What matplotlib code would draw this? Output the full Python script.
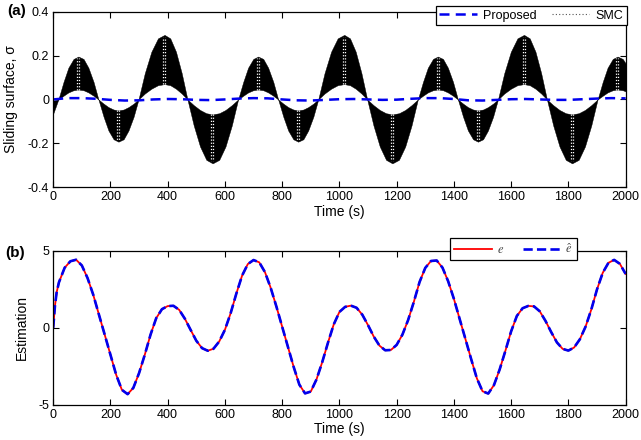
import numpy as np
import matplotlib
matplotlib.use("Agg")
import matplotlib.pyplot as plt
from matplotlib.lines import Line2D

plt.rcParams['font.family'] = ['Liberation Sans', 'DejaVu Sans']
plt.rcParams['mathtext.fontset'] = 'stix'

# ---- (a) sliding surface: SMC band (outer / inner envelope) and proposed ----
sigma_t = [0, 18, 36, 53, 71, 88, 106, 123, 141, 158, 176, 193, 211, 228, 246, 263, 281, 298,
           320, 343, 366, 389, 409, 429, 449, 469, 491, 513, 535, 557, 580, 602, 624, 646,
           664, 681, 699, 716, 734, 751, 769, 786, 804, 821, 839, 856, 874, 891, 909, 926,
           948, 971, 994, 1017, 1037, 1057, 1077, 1097, 1119, 1141, 1163, 1185, 1208, 1230, 1252, 1274,
           1292, 1309, 1327, 1344, 1362, 1379, 1397, 1414, 1432, 1449, 1467, 1484, 1502, 1519, 1537, 1554,
           1576, 1599, 1622, 1645, 1665, 1685, 1705, 1725, 1747, 1769, 1791, 1813, 1836, 1858, 1880, 1902,
           1920, 1937, 1955, 1972, 1990, 2000]
smc_outer = [-0.065, 0, 0.080, 0.145, 0.185, 0.196, 0.185, 0.145, 0.080, 0,
             -0.079, -0.142, -0.182, -0.193, -0.182, -0.142, -0.079, 0,
             0.120, 0.218, 0.279, 0.295, 0.279, 0.218, 0.120, 0,
             -0.119, -0.215, -0.276, -0.292, -0.276, -0.215, -0.119, 0,
             0.080, 0.145, 0.185, 0.196, 0.185, 0.145, 0.080, 0,
             -0.079, -0.142, -0.182, -0.193, -0.182, -0.142, -0.079, 0,
             0.120, 0.218, 0.279, 0.295, 0.279, 0.218, 0.120, 0,
             -0.119, -0.215, -0.276, -0.292, -0.276, -0.215, -0.119, 0,
             0.080, 0.145, 0.185, 0.196, 0.185, 0.145, 0.080, 0,
             -0.079, -0.142, -0.182, -0.193, -0.182, -0.142, -0.079, 0,
             0.120, 0.218, 0.279, 0.295, 0.279, 0.218, 0.120, 0,
             -0.119, -0.215, -0.276, -0.292, -0.276, -0.215, -0.119, 0,
             0.080, 0.145, 0.185, 0.196, 0.185, 0.165]
smc_inner = [-0.005, 0, 0.017, 0.032, 0.042, 0.045, 0.042, 0.032, 0.017, 0,
             -0.019, -0.035, -0.046, -0.050, -0.046, -0.035, -0.019, 0,
             0.027, 0.049, 0.065, 0.070, 0.065, 0.049, 0.027, 0,
             -0.026, -0.048, -0.063, -0.068, -0.063, -0.048, -0.026, 0,
             0.017, 0.032, 0.042, 0.045, 0.042, 0.032, 0.017, 0,
             -0.019, -0.035, -0.046, -0.050, -0.046, -0.035, -0.019, 0,
             0.027, 0.049, 0.065, 0.070, 0.065, 0.049, 0.027, 0,
             -0.026, -0.048, -0.063, -0.068, -0.063, -0.048, -0.026, 0,
             0.017, 0.032, 0.042, 0.045, 0.042, 0.032, 0.017, 0,
             -0.019, -0.035, -0.046, -0.050, -0.046, -0.035, -0.019, 0,
             0.027, 0.049, 0.065, 0.070, 0.065, 0.049, 0.027, 0,
             -0.026, -0.048, -0.063, -0.068, -0.063, -0.048, -0.026, 0,
             0.017, 0.032, 0.042, 0.045, 0.042, 0.037]

prop_t = np.arange(0, 2001, 50)
prop_sigma = [0.0, 0.006, 0.006, 0.003, -0.002, -0.005, -0.004, 0.0, 0.002, 0.001,
              -0.002, -0.003, 0.0, 0.004, 0.006, 0.005, 0.0, -0.004, -0.005, -0.002,
              0.001, 0.002, 0.0, -0.002, -0.001, 0.003, 0.006, 0.006, 0.002, -0.004,
              -0.005, -0.002, 0.001, 0.002, 0.0, -0.002, -0.002, 0.001, 0.004, 0.006, 0.005]

# ---- (b) estimation error e and its estimate ----
est_t = [0, 6, 12] + list(range(20, 2001, 20))
e_vals = [0.0, 1.4, 2.3,
          2.95, 3.9, 4.32, 4.42, 4.05, 3.23, 2.14, 0.84, -0.45, -1.75,
          -3.05, -4.03, -4.31, -3.9, -2.94, -1.75, -0.45, 0.63, 1.21, 1.41,
          1.43, 1.17, 0.59, -0.13, -0.84, -1.32, -1.49, -1.36, -0.89, -0.13,
          0.95, 2.23, 3.39, 4.14, 4.40, 4.25, 3.61, 2.59, 1.37, 0.07,
          -1.23, -2.53, -3.69, -4.26, -4.14, -3.35, -2.23, -0.97, 0.21, 1.03,
          1.36, 1.44, 1.30, 0.85, 0.17, -0.57, -1.16, -1.46, -1.44, -1.11,
          -0.45, 0.50, 1.68, 2.97, 3.89, 4.34, 4.37, 3.91, 3.02, 1.88,
          0.58, -0.71, -2.01, -3.27, -4.12, -4.27, -3.72, -2.70, -1.49, -0.23,
          0.77, 1.27, 1.42, 1.39, 1.07, 0.45, -0.28, -0.95, -1.37, -1.48,
          -1.28, -0.75, 0.07, 1.18, 2.49, 3.57, 4.22, 4.41, 4.15, 3.50]
e_hat = list(e_vals)


def style_axes(ax):
    ax.tick_params(direction='in', top=True, right=True, length=4, width=0.8,
                   labelsize=9, pad=3)
    for s in ax.spines.values():
        s.set_linewidth(0.9)
    ax.set_xlim(0, 2000)
    ax.set_xticks(range(0, 2001, 200))


fig = plt.figure(figsize=(6.41, 4.40), dpi=100)

ax1 = fig.add_axes([0.083, 0.575, 0.893, 0.398])
ax1.fill_between(sigma_t, smc_outer, smc_inner, color='black', lw=0.3, edgecolor='black')

# white dotted streaks that the dense SMC line leaves at each hump's extreme
outer = np.array(smc_outer)
tt = np.array(sigma_t)
peaks = [i for i in range(1, len(outer) - 1)
         if abs(outer[i]) > 0.1 and abs(outer[i]) >= abs(outer[i - 1]) and abs(outer[i]) >= abs(outer[i + 1])]
for i in peaks:
    for dx in (-4, 3):
        ax1.plot([tt[i] + dx, tt[i] + dx], [smc_inner[i], outer[i] * 0.97],
                 color='white', lw=0.9, linestyle=(0, (1, 1.5)))

ax1.plot(prop_t, prop_sigma, color='#0000ee', lw=1.8, dashes=(4, 2.5))
style_axes(ax1)
ax1.set_ylim(-0.4, 0.4)
ax1.set_yticks([-0.4, -0.2, 0, 0.2, 0.4])
ax1.set_yticklabels(['-0.4', '-0.2', '0', '0.2', '0.4'])
ax1.set_xlabel('Time (s)', fontsize=10, labelpad=1)
ax1.set_ylabel('Sliding surface, σ', fontsize=10, labelpad=7)
h1 = [Line2D([], [], color='#0000ee', lw=1.8, dashes=(4, 2.5)),
      Line2D([], [], color='#555555', lw=0.8, linestyle=(0, (1, 2)))]
leg1 = ax1.legend(h1, ['Proposed', 'SMC'], ncol=2, loc='upper right',
                  bbox_to_anchor=(627 / 641, 1 - 6 / 440), bbox_transform=fig.transFigure,
                  borderaxespad=0, fontsize=9, handlelength=3.0, columnspacing=1.2,
                  handletextpad=0.5, borderpad=0.3, fancybox=False, framealpha=1,
                  edgecolor='black')
leg1.get_frame().set_linewidth(0.9)
fig.text(0.012, 0.965, '(a)', fontsize=11, fontweight='bold')

ax2 = fig.add_axes([0.083, 0.08, 0.893, 0.35])
ax2.plot(est_t, e_vals, color='#ff0000', lw=1.3)
ax2.plot(est_t, e_hat, color='#0000ee', lw=1.9, dashes=(3.5, 1.6))
style_axes(ax2)
ax2.set_ylim(-5, 5)
ax2.set_yticks([-5, 0, 5])
ax2.set_yticklabels(['-5', '0', '5'])
ax2.set_xlabel('Time (s)', fontsize=10, labelpad=1)
ax2.set_ylabel('Estimation', fontsize=10, labelpad=6.5)
h2 = [Line2D([], [], color='#ff0000', lw=1.3),
      Line2D([], [], color='#0000ee', lw=1.9, dashes=(3.5, 1.6))]
leg2 = ax2.legend(h2, ['$e$', r'$\hat{e}$'], ncol=2, loc='upper right',
                  bbox_to_anchor=(577 / 641, 1 - 238 / 440), bbox_transform=fig.transFigure,
                  borderaxespad=0, fontsize=9, handlelength=3.0, columnspacing=1.5,
                  handletextpad=0.4, borderpad=0.35, fancybox=False, framealpha=1,
                  edgecolor='black', labelcolor='#444444')
leg2.get_frame().set_linewidth(0.9)
fig.text(0.008, 0.415, '(b)', fontsize=11, fontweight='bold')

fig.savefig('out.png', dpi=100)
